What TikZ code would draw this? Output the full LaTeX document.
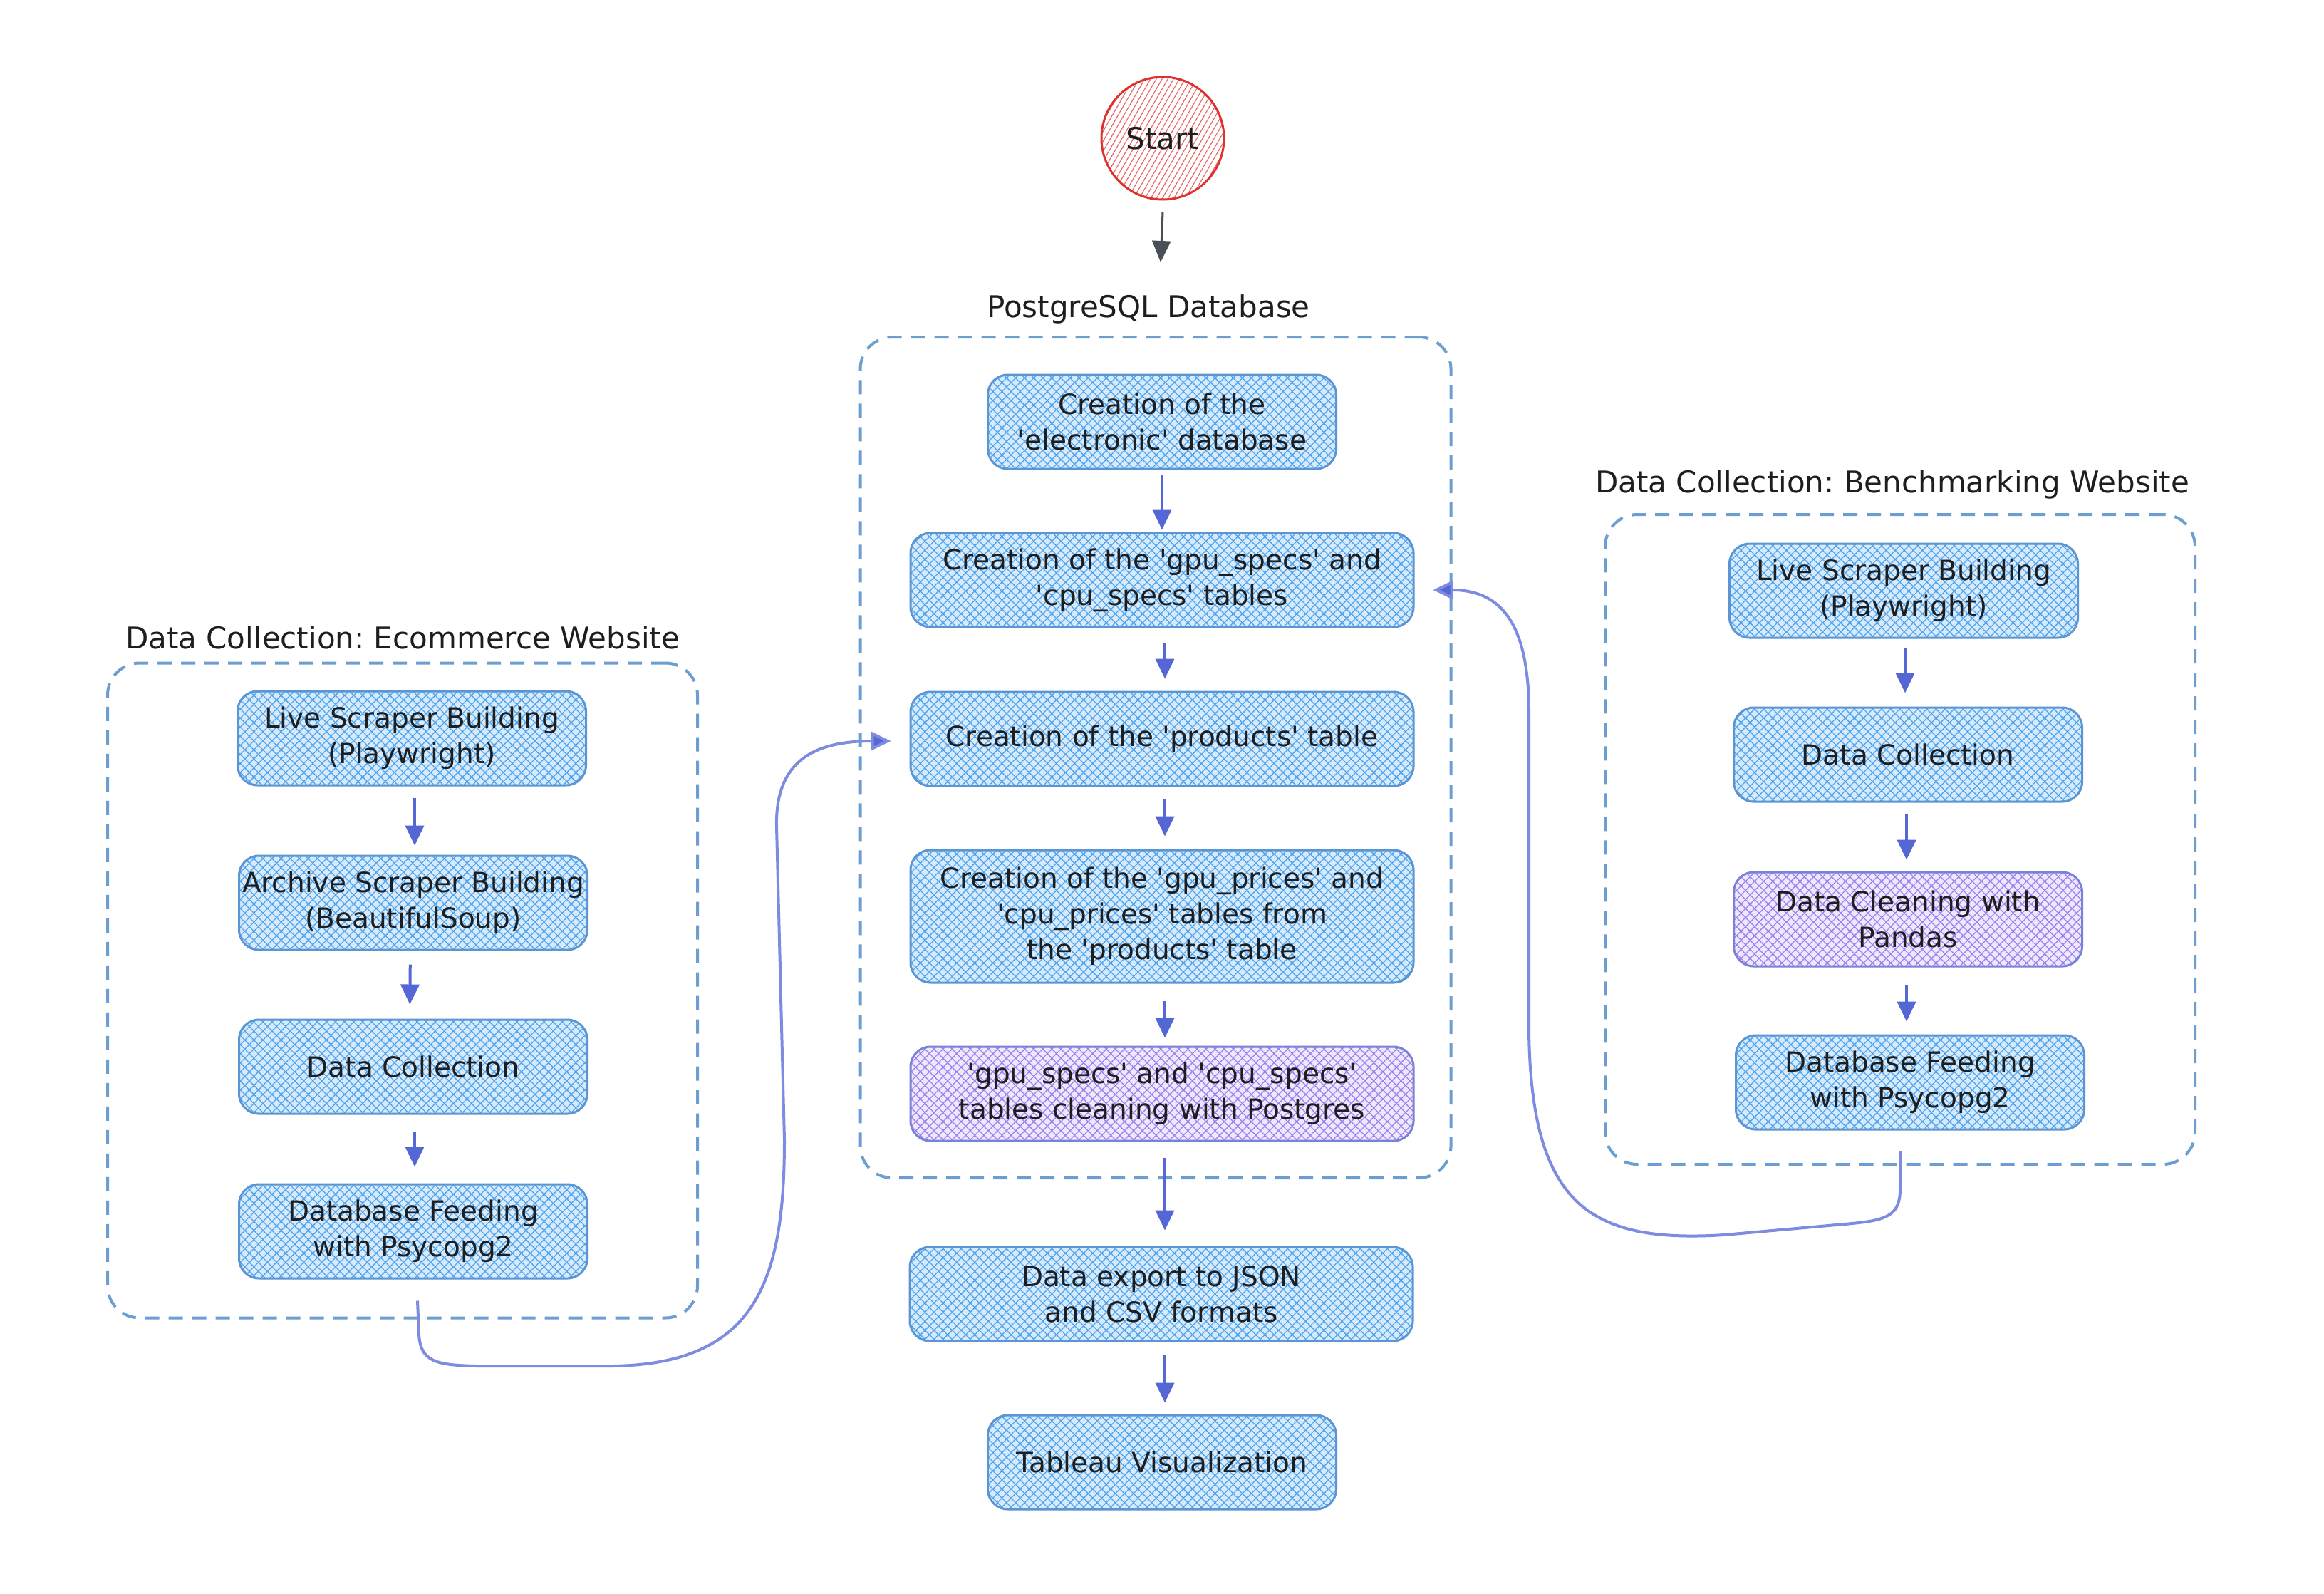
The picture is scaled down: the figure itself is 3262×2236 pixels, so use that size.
\documentclass[tikz,border=0pt]{standalone}
\usepackage{fontspec}
\setmainfont{DejaVu Sans}
\usetikzlibrary{arrows.meta,patterns.meta}
\definecolor{textc}{HTML}{1E1E1E}
\definecolor{boxline}{HTML}{5C95D3}
\definecolor{hatchblue}{HTML}{4DA3EE}
\definecolor{boxbg}{HTML}{D6EAFB}
\definecolor{purpleline}{HTML}{7A82D8}
\definecolor{hatchpurple}{HTML}{9B7FEF}
\definecolor{purplebg}{HTML}{EEE8FD}
\definecolor{dashc}{HTML}{6C9FD0}
\definecolor{arrowc}{HTML}{5567D5}
\definecolor{connc}{HTML}{7D8CE0}
\definecolor{startred}{HTML}{E03131}
\definecolor{starthatch}{HTML}{E86060}
\definecolor{graya}{HTML}{495057}
\newcommand{\boxfont}{\fontsize{39pt}{50pt}\selectfont}
\newcommand{\ttlfont}{\fontsize{42pt}{50pt}\selectfont}
\newcommand{\sq}{\textquotesingle}
\frenchspacing
\begin{document}
\begin{tikzpicture}[x=1pt,y=-1pt,
  hatchfill/.style n args={3}{
    preaction={fill=#1},
    preaction={pattern={Lines[angle=45,distance=9pt,line width=1.3pt]},pattern color=#2},
    preaction={pattern={Lines[angle=-45,distance=9pt,line width=1.3pt]},pattern color=#2},
    draw=#3},
  basebox/.style={line width=3pt, rounded corners=28pt, minimum width=489pt,
    minimum height=132pt, align=center, text=textc, font=\boxfont, inner sep=2pt},
  box/.style={basebox, hatchfill={boxbg}{hatchblue}{boxline}},
  pbox/.style={basebox, hatchfill={purplebg}{hatchpurple}{purpleline}},
  container/.style={draw=dashc, line width=4pt, dash pattern=on 20pt off 13pt,
    rounded corners=45pt, inner sep=0pt},
  ttl/.style={font=\ttlfont, text=textc},
  arr/.style={draw=arrowc, line width=4pt, -{Triangle[length=28pt,width=26pt]}},
  conn/.style={draw=connc, line width=4pt, -{Triangle[length=28pt,width=26pt,fill=arrowc]}},
]
\fill[white] (0,0) rectangle (3262,2236);
\useasboundingbox (0,0) rectangle (3262,2236);

% start
\node[circle, minimum size=172pt, draw=startred, line width=3pt,
  preaction={fill=white},
  preaction={pattern={Lines[angle=60,distance=7pt,line width=1.1pt]},pattern color=starthatch},
  font=\ttlfont, text=textc] (start) at (1632,194) {Start};
\coordinate (startend) at (1629,368);
\draw[draw=graya, line width=3pt, -{Triangle[length=30pt,width=26pt]}] ([yshift=-16pt]start.south) -- (startend);

% containers
\node[container, minimum width=829pt, minimum height=1180pt] (pg) at (1622,1063) {};
\node[ttl] (pgt) at (1612,434) {PostgreSQL Database};
\node[container, minimum width=828pt, minimum height=919pt] (lc) at (565,1390) {};
\node[ttl] (lct) at (565,895) {Data Collection: Ecommerce Website};
\node[container, minimum width=828pt, minimum height=912pt] (rc) at (2667,1178) {};
\node[ttl] (rct) at (2656,680) {Data Collection: Benchmarking Website};

% middle column
\node[box] (db) at (1631,592) {Creation of the\\\sq electronic\sq{} database};
\node[box, minimum width=706pt] (specs) at (1631,814) {Creation of the \sq gpu\_specs\sq{} and\\\sq cpu\_specs\sq{} tables};
\node[box, minimum width=706pt] (prod) at (1631,1037) {Creation of the \sq products\sq{} table};
\node[box, minimum width=706pt, minimum height=186pt] (prices) at (1631,1286) {Creation of the \sq gpu\_prices\sq{} and\\\sq cpu\_prices\sq{} tables from\\the \sq products\sq{} table};
\node[pbox, minimum width=706pt] (clean) at (1631,1535) {\sq gpu\_specs\sq{} and \sq cpu\_specs\sq\\tables cleaning with Postgres};
\node[box, minimum width=706pt] (export) at (1630,1816) {Data export to JSON\\and CSV formats};
\node[box] (tab) at (1631,2052) {Tableau Visualization};

% left column
\node[box] (llive) at (578,1036) {Live Scraper Building\\(Playwright)};
\node[box] (larch) at (580,1267) {Archive Scraper Building\\(BeautifulSoup)};
\node[box] (ldc) at (580,1497) {Data Collection};
\node[box] (lfeed) at (580,1728) {Database Feeding\\with Psycopg2};

% right column
\node[box] (rlive) at (2672,829) {Live Scraper Building\\(Playwright)};
\node[box] (rdc) at (2678,1059) {Data Collection};
\node[pbox] (rclean) at (2678,1290) {Data Cleaning with\\Pandas};
\node[box] (rfeed) at (2681,1519) {Database Feeding\\with Psycopg2};

% straight arrows
\draw[arr, shorten <=7pt, shorten >=3pt] (db.south) -- (db.south |- specs.north);
\draw[arr, shorten <=20pt, shorten >=17pt] ([xshift=4pt]specs.south) -- ([xshift=4pt]prod.north);
\draw[arr, shorten <=17pt, shorten >=18pt] ([xshift=4pt]prod.south) -- ([xshift=4pt]prices.north);
\draw[arr, shorten <=24pt, shorten >=11pt] ([xshift=4pt]prices.south) -- ([xshift=4pt]clean.north);
\draw[arr, shorten <=22pt, shorten >=22pt] ([xshift=4pt]clean.south) -- ([xshift=5pt]export.north);
\draw[arr, shorten <=17pt, shorten >=16pt] ([xshift=5pt]export.south) -- ([xshift=4pt]tab.north);

\draw[arr, shorten <=16pt, shorten >=13pt] ([xshift=4pt]llive.south) -- ([xshift=2pt]larch.north);
\draw[arr, shorten <=19pt, shorten >=20pt] ([xshift=-4pt]larch.south) -- ([xshift=-5pt]ldc.north);
\draw[arr, shorten <=23pt, shorten >=23pt] ([xshift=2pt]ldc.south) -- ([xshift=2pt]lfeed.north);

\draw[arr, shorten <=13pt, shorten >=19pt] ([xshift=2pt]rlive.south) -- ([xshift=-4pt]rdc.north);
\draw[arr, shorten <=15pt, shorten >=16pt] ([xshift=-2pt]rdc.south) -- ([xshift=-2pt]rclean.north);
\draw[arr, shorten <=24pt, shorten >=18pt] ([xshift=-2pt]rclean.south) -- ([xshift=-5pt]rfeed.north);

% curved connectors
\coordinate (ls) at ([xshift=6pt,yshift=-30pt]lfeed.south);
\coordinate (le) at ([xshift=-26pt,yshift=-3pt]prod.west);
\draw[conn] (ls) -- (588,1872) .. controls (590,1910) and (610,1916) .. (670,1917)
  -- (860,1917) .. controls (1060,1914) and (1101,1800) .. (1101,1600)
  -- (1090,1160) .. controls (1088,1070) and (1140,1040) .. (le);

\coordinate (rs) at ([xshift=-14pt,yshift=-29pt]rfeed.south);
\coordinate (re) at ([xshift=26pt,yshift=-14pt]specs.east);
\draw[conn] (rs) -- (2667,1668) .. controls (2667,1705) and (2650,1712) .. (2600,1717)
  -- (2420,1733) .. controls (2230,1745) and (2150,1690) .. (2146,1450)
  -- (2146,1000) .. controls (2146,880) and (2110,828) .. (re);
\end{tikzpicture}
\end{document}
